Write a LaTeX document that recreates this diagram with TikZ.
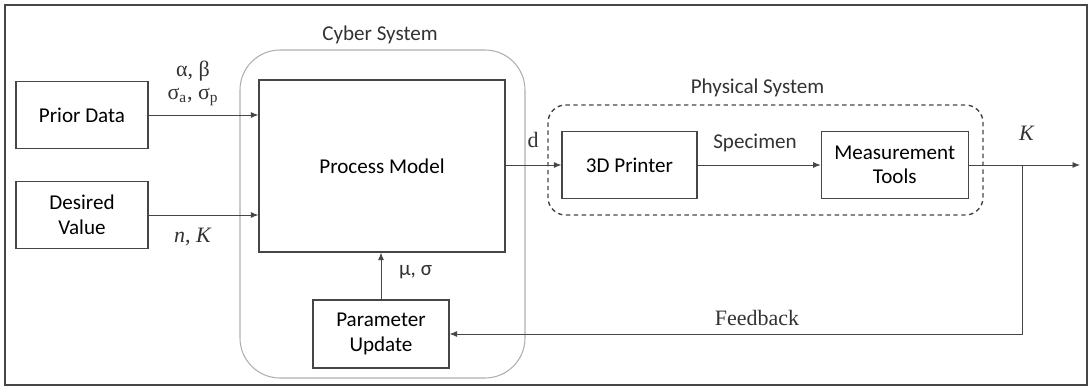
\documentclass[tikz,border=0pt]{standalone}
\usepackage{fontspec}
\setmainfont{Carlito}
\newfontfamily\seriffont{Liberation Serif}
\usepackage{xcolor}
\usetikzlibrary{positioning, arrows.meta, calc}
\definecolor{edgegray}{RGB}{70,70,70}
\definecolor{cybergray}{RGB}{175,175,175}

\begin{document}
\begin{tikzpicture}[
        font=\fontsize{12}{14}\selectfont,
        box/.style={draw=edgegray, rectangle, line width=0.7pt, align=center, minimum height=1.34cm},
        arr/.style={-{Latex[length=1.5mm, width=1.2mm]}, edgegray, line width=0.5pt},
        lbl/.style={text=black!80, inner sep=1pt},
        serif/.style={lbl, font=\seriffont\fontsize{12.5}{14}\selectfont}
    ]
    \useasboundingbox (0,0) rectangle (21.8,-7.76);
    \draw[edgegray, line width=1pt] (0.1,-0.1) rectangle (21.74,-7.7);

    % cyber and physical groups
    \draw[cybergray, line width=0.6pt, rounded corners=0.8cm] (4.8,-1.0) rectangle (10.5,-7.56);
    \node[lbl] (cyberlbl) at (7.6,-0.70) {Cyber System};
    \draw[edgegray, dashed, dash pattern=on 2.5pt off 2pt, line width=0.8pt, rounded corners=0.35cm] (10.96,-2.1) rectangle (19.66,-4.3);
    \node[lbl] (physlbl) at (15.15,-1.76) {Physical System};

    % blocks
    \node[box, minimum width=2.64cm] (prior) at (1.64,-2.30) {Prior Data};
    \node[box, minimum width=2.64cm] (desired) at (1.64,-4.30) {Desired\\Value};
    \node[box, minimum width=4.92cm, minimum height=3.44cm] (model) at (7.64,-3.32) {Process Model};
    \node[box, minimum width=2.72cm, minimum height=1.36cm] (update) at (7.62,-6.68) {Parameter\\Update};
    \node[box, minimum width=2.70cm] (printer) at (12.59,-3.30) {3D Printer};
    \node[box, minimum width=2.94cm] (tools) [right=2.46cm of printer] {Measurement\\Tools};
    \coordinate (out) at (21.6,-3.30);
    \coordinate (fb) at (20.44,-3.30);

    % connectors
    \draw[arr] (prior) -- (prior -| model.west);
    \draw[arr] (desired) -- (desired -| model.west);
    \draw[arr] (update) -- (update |- model.south);
    \draw[arr] (model.east |- printer) -- (printer);
    \draw[arr] (printer) -- (tools);
    \draw[arr] (tools) -- (out);
    \draw[arr] (fb) |- (update);

    % labels
    \node[serif] (ab) at (3.86,-1.42) {α, β};
    \node[serif] (sig) at (3.86,-1.94) {σ\textsubscript{a}, σ\textsubscript{p}};
    \node[serif] (nk) at (3.86,-4.74) {\textit{n}, \textit{K}};
    \node[lbl, anchor=west] (musig) at (7.94,-5.44) {μ, σ};
    \node[serif] (dlbl) at (10.66,-2.80) {d};
    \node[lbl] (spec) at (15.1,-2.86) {Specimen};
    \node[serif] (klbl) at (20.54,-2.66) {\textit{K}};
    \node[serif] (fblbl) at (15.14,-6.36) {Feedback};
\end{tikzpicture}
\end{document}
